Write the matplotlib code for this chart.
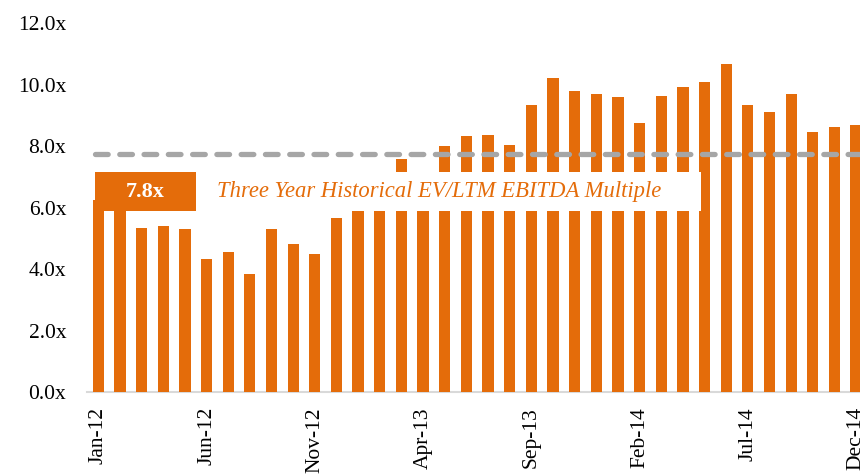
import matplotlib
matplotlib.use("Agg")
import matplotlib.pyplot as plt
from matplotlib.patches import Rectangle

months = ["Jan-12", "Feb-12", "Mar-12", "Apr-12", "May-12", "Jun-12", "Jul-12", "Aug-12",
          "Sep-12", "Oct-12", "Nov-12", "Dec-12", "Jan-13", "Feb-13", "Mar-13", "Apr-13",
          "May-13", "Jun-13", "Jul-13", "Aug-13", "Sep-13", "Oct-13", "Nov-13", "Dec-13",
          "Jan-14", "Feb-14", "Mar-14", "Apr-14", "May-14", "Jun-14", "Jul-14", "Aug-14",
          "Sep-14", "Oct-14", "Nov-14", "Dec-14"]
multiples = [6.26, 6.5, 5.34, 5.41, 5.31, 4.34, 4.58, 3.85, 5.32, 4.83, 4.50, 5.69,
             6.1, 6.4, 7.58, 7.0, 8.03, 8.33, 8.37, 8.04, 9.34, 10.24, 9.81, 9.72,
             9.61, 8.75, 9.63, 9.92, 10.10, 10.68, 9.36, 9.11, 9.71, 8.48, 8.62, 8.70]
average = 7.76
avg_label = "7.8x"
avg_text = "Three Year Historical EV/LTM EBITDA Multiple"
yticks = [0, 2, 4, 6, 8, 10, 12]
ytick_labels = ["0.0x", "2.0x", "4.0x", "6.0x", "8.0x", "10.0x", "12.0x"]

ORANGE = "#E46C0A"
GREY = "#A6A6A6"
FONT = "Liberation Serif"

fig = plt.figure(figsize=(8.6, 4.74), dpi=100)
ax = fig.add_axes([0.1012, 0.172, 0.8988, 0.7785])

x = list(range(len(months)))
ax.bar(x, multiples, width=0.52, color=ORANGE, zorder=2)

ax.set_xlim(-0.52, 35.18)
ax.set_ylim(0, 12)

# average dashed line
ax.axhline(average, xmin=0.0103, xmax=1.0, color=GREY, lw=3.8,
           dashes=(2.4, 2.2), dash_capstyle="round", zorder=3)

# label boxes
ax.add_patch(Rectangle((-0.15, 5.90), 27.97, 1.27, facecolor="white",
                       edgecolor="none", zorder=4))
ax.add_patch(Rectangle((-0.15, 5.90), 4.66, 1.27, facecolor=ORANGE,
                       edgecolor="none", zorder=5))
ax.text(2.18, 6.535, avg_label, color="white", fontsize=16, fontweight="bold",
        family=FONT, ha="center", va="center", zorder=6)
ax.text(5.5, 6.535, avg_text, color=ORANGE, fontsize=16.3, style="italic",
        family=FONT, ha="left", va="center", zorder=6)

ax.set_yticks(yticks)
ax.set_yticklabels(ytick_labels, family=FONT, fontsize=15.5)
ax.set_xticks(x[::5])
ax.set_xticklabels(months[::5], rotation=90, family=FONT, fontsize=15.5,
                   ha="center", va="top")
ax.tick_params(axis="y", length=0, pad=15)
ax.tick_params(axis="x", length=0, pad=10.5)

for s in ["left", "right", "top"]:
    ax.spines[s].set_visible(False)
ax.spines["bottom"].set_color("#D9D9D9")
ax.spines["bottom"].set_linewidth(1.5)
ax.spines["bottom"].set_zorder(1)

fig.savefig("out.png", dpi=100)
